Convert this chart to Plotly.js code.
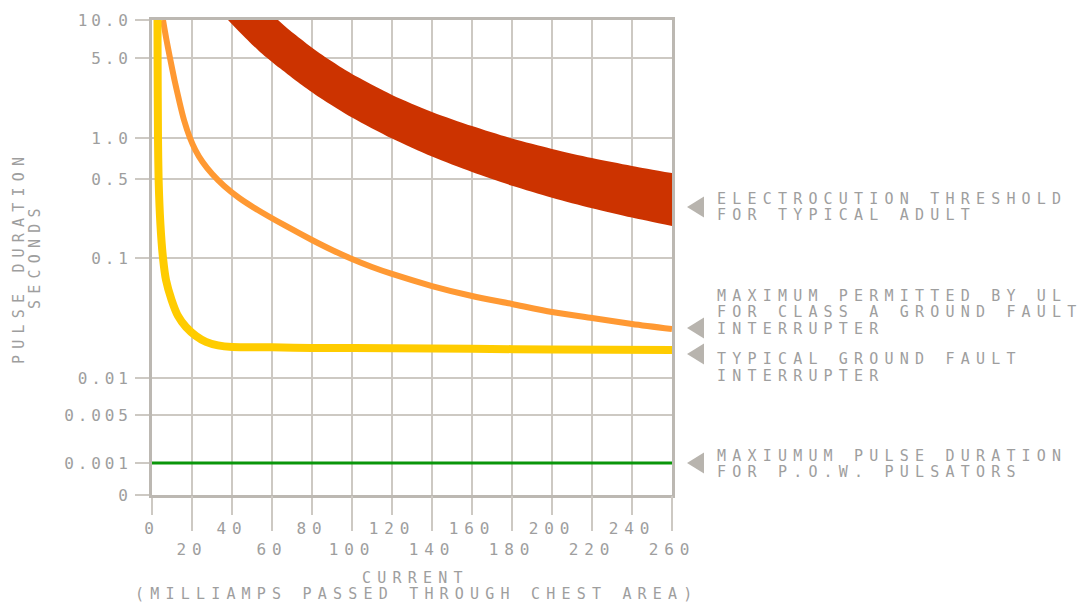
<!DOCTYPE html>
<html>
<head>
<meta charset="utf-8">
<script src="https://cdn.plot.ly/plotly-3.0.1.min.js"></script>
<style>
html,body{margin:0;padding:0;background:#ffffff;}
text{letter-spacing:6.2px;}
.ytick text{letter-spacing:3.9px;}
.xtick text, .x2tick text{letter-spacing:5.9px;}
</style>
</head>
<body>
<div id="chart" style="width:1084px;height:603px;"></div>
<script>
// ---------------- data ----------------
const X_TICKS_UPPER = [0, 40, 80, 120, 160, 200, 240];
const X_TICKS_LOWER = [20, 60, 100, 140, 180, 220, 260];
const Y_TICK_VALUES = [10, 5, 1, 0.5, 0.1, 0.01, 0.005, 0.001, 0];
const Y_TICK_LABELS = ['10.0', '5.0', '1.0', '0.5', '0.1', '0.01', '0.005', '0.001', '0'];

// Electrocution threshold band for typical adult (mA, seconds)
// lower boundary (shortest durations)
const ADULT_LOW_MA = [38, 44, 54, 64, 74, 84, 100, 120, 140, 160, 180, 200, 220, 240, 260];
const ADULT_LOW_S  = [10, 7.96, 5.58, 4.06, 2.98, 2.25, 1.51, 0.99, 0.730, 0.562, 0.436, 0.342, 0.276, 0.228, 0.192];
// upper boundary (longest durations)
const ADULT_HIGH_MA = [63, 69, 77.5, 84, 94, 104, 120, 140, 160, 180, 200, 220, 240, 260];
const ADULT_HIGH_S  = [10, 8.24, 6.46, 5.42, 4.20, 3.32, 2.38, 1.69, 1.27, 0.99, 0.832, 0.713, 0.624, 0.553];

// Maximum permitted by UL for class A ground fault interrupter
const UL_MA = [5.5, 7.25, 9, 11.25, 13.5, 16, 19, 21.7, 25.3, 30.1, 36.1, 43.6, 52.9, 66, 80, 90, 100, 110, 120, 140, 160, 180, 200, 220, 240, 260];
const UL_S  = [10, 6.94, 5, 3.21, 2.15, 1.436, 1.0, 0.816, 0.666, 0.544, 0.4335, 0.3397, 0.2659, 0.1959, 0.1443, 0.1177, 0.0981, 0.0841, 0.0736, 0.0584, 0.0482, 0.0414, 0.0355, 0.0316, 0.0282, 0.0256];

// Typical ground fault interrupter
const GFI_MA = [2.75, 2.8, 3.0, 3.3, 4.2, 5.5, 7, 9.8, 13, 17, 22, 27, 33, 40, 60, 80, 120, 160, 200, 260];
const GFI_S  = [10, 5, 1, 0.5, 0.2, 0.1, 0.0656, 0.0447, 0.0329, 0.0266, 0.0224, 0.0200, 0.0187, 0.0181, 0.0180, 0.0178, 0.0177, 0.0175, 0.0173, 0.0171];

// Maximum pulse duration for P.O.W. pulsators
const POW_MA = [0, 260];
const POW_S  = [0.001, 0.001];

// ---------------- scale (irregular hand-drawn duration axis) ----------------
const Y_SCALE_STOPS = [475, 437, 357, 316, 237, 117, 80, 32, 0];
function yScale(v) {
  const n = Y_TICK_VALUES.length;
  if (v >= Y_TICK_VALUES[0]) {
    const a = Y_TICK_VALUES[0], b = Y_TICK_VALUES[1];
    const k = (Y_SCALE_STOPS[0] - Y_SCALE_STOPS[1]) / (Math.log10(a) - Math.log10(b));
    return Y_SCALE_STOPS[0] + k * (Math.log10(v) - Math.log10(a));
  }
  for (let i = 0; i < n - 1; i++) {
    const a = Y_TICK_VALUES[i], b = Y_TICK_VALUES[i + 1];
    if (v <= a && v >= b) {
      const t = b > 0 ? (Math.log10(a) - Math.log10(v)) / (Math.log10(a) - Math.log10(b))
                      : (a - v) / (a - b);
      return Y_SCALE_STOPS[i] + t * (Y_SCALE_STOPS[i + 1] - Y_SCALE_STOPS[i]);
    }
  }
  return 0;
}

// ---------------- styles ----------------
const TEXT = '#9e9e9e';
const GRID = '#cdc9c3';
const FRAME = '#bcb8b2';
const POINTER = '#b8b4ae';
const FONT = 'DejaVu Sans Mono, monospace';
const FS = 15;      // labels and titles
const FS_TICK = 16; // tick labels

const traces = [
  { x: ADULT_LOW_MA, y: ADULT_LOW_S.map(yScale), type: 'scatter', mode: 'lines',
    line: { width: 0, color: '#cc3300', shape: 'spline', smoothing: 0.8 }, hoverinfo: 'skip' },
  { x: ADULT_HIGH_MA, y: ADULT_HIGH_S.map(yScale), type: 'scatter', mode: 'lines',
    fill: 'tonexty', fillcolor: '#cc3300',
    line: { width: 0, color: '#cc3300', shape: 'spline', smoothing: 0.8 }, hoverinfo: 'skip' },
  { x: UL_MA, y: UL_S.map(yScale), type: 'scatter', mode: 'lines',
    line: { width: 6, color: '#ff9933', shape: 'spline', smoothing: 0.8 } },
  { x: GFI_MA, y: GFI_S.map(yScale), type: 'scatter', mode: 'lines',
    line: { width: 8, color: '#ffcc00', shape: 'spline', smoothing: 0.7 } },
  { x: POW_MA, y: POW_S.map(yScale), type: 'scatter', mode: 'lines', xaxis: 'x2',
    line: { width: 3, color: '#0a960a' } }
];

// pixel -> paper helpers for label layout
const PL = 152, PR = 672, PT = 20, PB = 495;
const pxX = x => (x - PL) / (PR - PL);
const pxY = y => (PB - y) / (PB - PT);

const LABEL_X = 715;
const LABEL_LINES = [
  ['ELECTROCUTION THRESHOLD', 199], ['FOR TYPICAL ADULT', 215],
  ['MAXIMUM PERMITTED BY UL', 295.5], ['FOR CLASS A GROUND FAULT', 312], ['INTERRUPTER', 328.5],
  ['TYPICAL GROUND FAULT', 359], ['INTERRUPTER', 376],
  ['MAXIUMUM PULSE DURATION', 455.5], ['FOR P.O.W. PULSATORS', 472]
];
const POINTER_Y = [207, 328, 354, 463];

const annotations = LABEL_LINES.map(([t, y]) => ({
  text: t, xref: 'paper', yref: 'paper', x: pxX(LABEL_X), y: pxY(y),
  xanchor: 'left', yanchor: 'middle', showarrow: false,
  font: { family: FONT, size: FS, color: TEXT }
}));
annotations.push(
  { text: 'CURRENT', xref: 'paper', yref: 'paper', x: pxX(415), y: pxY(578),
    xanchor: 'center', yanchor: 'middle', showarrow: false, font: { family: FONT, size: FS, color: TEXT } },
  { text: '(MILLIAMPS PASSED THROUGH CHEST AREA)', xref: 'paper', yref: 'paper', x: pxX(417), y: pxY(594),
    xanchor: 'center', yanchor: 'middle', showarrow: false, font: { family: FONT, size: FS, color: TEXT } },
  { text: 'PULSE DURATION', xref: 'paper', yref: 'paper', x: pxX(19), y: pxY(258), textangle: -90,
    xanchor: 'center', yanchor: 'middle', showarrow: false, font: { family: FONT, size: FS, color: TEXT } },
  { text: 'SECONDS', xref: 'paper', yref: 'paper', x: pxX(35), y: pxY(256), textangle: -90,
    xanchor: 'center', yanchor: 'middle', showarrow: false, font: { family: FONT, size: FS, color: TEXT } }
);

const shapes = POINTER_Y.map(c => ({
  type: 'path', xref: 'paper', yref: 'paper',
  path: `M ${pxX(704)} ${pxY(c - 10.5)} L ${pxX(687)} ${pxY(c)} L ${pxX(704)} ${pxY(c + 10.5)} Z`,
  fillcolor: POINTER, line: { width: 0 }
}));

const axisCommon = {
  tickmode: 'array', ticks: 'outside', tickwidth: 2, tickcolor: GRID,
  showgrid: true, gridcolor: GRID, gridwidth: 2, zeroline: false, fixedrange: true,
  tickfont: { family: FONT, size: FS_TICK, color: TEXT }
};

const layout = {
  width: 1084, height: 603,
  margin: { l: PL, r: 1084 - PR, t: PT, b: 603 - PB, pad: 0 },
  paper_bgcolor: '#ffffff', plot_bgcolor: '#ffffff',
  showlegend: false,
  font: { family: FONT, size: FS, color: TEXT },
  xaxis: Object.assign({}, axisCommon, {
    range: [0, 260], tickvals: X_TICKS_UPPER, ticktext: X_TICKS_UPPER.map(String), ticklen: 17,
    showline: true, linecolor: FRAME, linewidth: 3, mirror: true
  }),
  xaxis2: Object.assign({}, axisCommon, {
    overlaying: 'x', side: 'bottom', anchor: 'y',
    range: [0, 260], tickvals: X_TICKS_LOWER, ticktext: X_TICKS_LOWER.map(String), ticklen: 35,
    ticklabelstandoff: 5, showline: false
  }),
  yaxis: Object.assign({}, axisCommon, {
    range: [0, 475], tickvals: Y_TICK_VALUES.map(yScale), ticktext: Y_TICK_LABELS, ticklen: 14,
    showline: true, linecolor: FRAME, linewidth: 3, mirror: true
  }),
  annotations: annotations,
  shapes: shapes
};

Plotly.newPlot('chart', traces, layout, { displayModeBar: false, staticPlot: true });
</script>
</body>
</html>
